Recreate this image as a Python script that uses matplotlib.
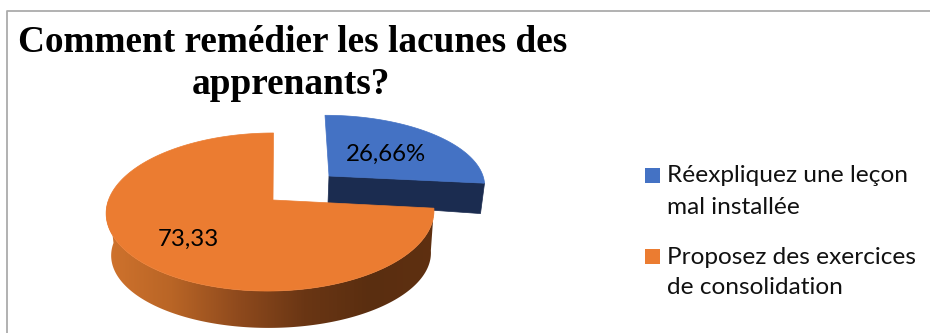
import matplotlib
matplotlib.use('Agg')
import matplotlib.pyplot as plt
from matplotlib.colors import LinearSegmentedColormap
from matplotlib.patches import Polygon, Rectangle
import numpy as np

title_lines = ['Comment remédier les lacunes des', 'apprenants?']
values = [26.66, 73.33]
value_labels = ['26,66%', '73,33']
legend_labels = [['Réexpliquez une leçon', 'mal installée'],
                 ['Proposez des exercices', 'de consolidation']]
colors = ['#4472C4', '#EB7C31']


def project(theta, r, x0, y0, rx, ry, skew, persp):
    # theta runs clockwise from 12 o'clock, far side of the disc gets smaller
    u = r*np.sin(theta)
    v = r*np.cos(theta)
    k = 1 + persp*v
    return np.column_stack([x0 + skew*v + rx*u/k, y0 - ry*v/k])


def wedge_points(t0, t1, apex_dx=0, **geom):
    t = np.linspace(t0, t1, 200)
    rim = project(t, 1.0, **geom)
    apex = project(np.array([0.0]), 0.0, **geom) + [apex_dx, 0]
    return np.vstack([apex, rim])


fig = plt.figure(figsize=(9.3, 3.33), dpi=100)
ax = fig.add_axes([0, 0, 1, 1])
ax.set_xlim(0, 930)
ax.set_ylim(333, 0)
ax.axis('off')

# frame only shows on the top and left
ax.plot([7, 7, 930], [333, 11, 11], color='#ababab', lw=1.3, solid_capstyle='butt')

# slice angles
edges = np.concatenate([[0], np.cumsum(values)])/sum(values)*2*np.pi

# blue slice is pulled out up and to the right
blue_top = dict(x0=329, y0=176, rx=154, ry=68, skew=-4, persp=0.12)
blue_low = dict(x0=328, y0=203, rx=151, ry=100, skew=-4, persp=0.12)
t0, t1 = edges[0], edges[1]
cut_top = project(np.array([0.0, t1]), np.array([0.0, 1.0]), **blue_top)
cut_low = project(np.array([0.0, t1]), np.array([0.0, 1.0]), **blue_low)
ax.add_patch(Polygon(np.vstack([cut_top, cut_low[::-1]]), fc='#1B2C50', ec='#1B2C50', lw=0.5))
ax.add_patch(Polygon(wedge_points(t0, t1, **blue_top), fc=colors[0], ec=colors[0], lw=0.5))

# orange slice, side wall first then the top
orange_top = dict(x0=270.5, y0=200, rx=162, ry=77.2, skew=3, persp=0.152)
orange_low = dict(x0=271.5, y0=243, rx=158, ry=72, skew=3, persp=0.152)
t = np.linspace(edges[1], 1.5*np.pi, 200)
wall = np.vstack([project(t, 1.0, **orange_top), project(t, 1.0, **orange_low)[::-1]])
wall_patch = Polygon(wall, fc='none', ec='none')
ax.add_patch(wall_patch)
wall_cmap = LinearSegmentedColormap.from_list(
    'wall', ['#D0732D', '#B96526', '#8F4A1D', '#6A3614', '#5A2E10', '#5F3011'])
im = ax.imshow(np.linspace(0, 1, 256)[None, :], extent=[105, 436, 333, 190], cmap=wall_cmap,
               aspect='auto', zorder=1)
im.set_clip_path(wall_patch)
ax.set_xlim(0, 930)
ax.set_ylim(333, 0)
ax.add_patch(Polygon(wedge_points(edges[1], edges[2], apex_dx=2.5, **orange_top), fc=colors[1],
                     ec=colors[1], lw=0.5, zorder=2))

# value labels
ax.text(386, 154, value_labels[0], family='Lato', fontsize=17.3, ha='center', va='center', zorder=3)
ax.text(188, 239, value_labels[1], family='Lato', fontsize=17.3, ha='center', va='center', zorder=3)

# title
ax.text(293, 42, title_lines[0], family='Liberation Serif', weight='bold', fontsize=26.85,
        ha='center', va='center')
ax.text(291, 84, title_lines[1], family='Liberation Serif', weight='bold', fontsize=26.85,
        ha='center', va='center')

# legend
for i, (lines, c) in enumerate(zip(legend_labels, colors)):
    y = 176 + i*81
    ax.add_patch(Rectangle((645, y-8), 15, 15, fc=c, ec='none'))
    ax.text(667, y, lines[0], family='Lato', fontsize=17.6, va='center', color='#111111')
    ax.text(667, y+31, lines[1], family='Lato', fontsize=17.6, va='center', color='#111111')

plt.savefig('out.png', dpi=100)
